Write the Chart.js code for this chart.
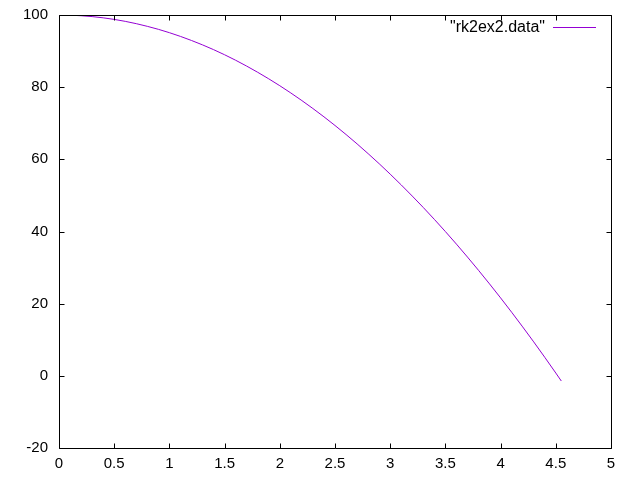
<!DOCTYPE html>
<html>
<head>
<meta charset="utf-8">
<script src="https://cdn.jsdelivr.net/npm/chart.js@4"></script>
<style>
  html, body { margin: 0; padding: 0; background: #fff; }
  #wrap { width: 640px; height: 480px; }
</style>
</head>
<body>
<div id="wrap"><canvas id="plot" width="640" height="480"></canvas></div>
<script>
// Data (time vs height)
const tValues = [0, 0.1, 0.2, 0.3, 0.4, 0.5, 0.6, 0.7, 0.8, 0.9,
    1.0, 1.1, 1.2, 1.3, 1.4, 1.5, 1.6, 1.7, 1.8, 1.9,
    2.0, 2.1, 2.2, 2.3, 2.4, 2.5, 2.6, 2.7, 2.8, 2.9,
    3.0, 3.1, 3.2, 3.3, 3.4, 3.5, 3.6, 3.7, 3.8, 3.9,
    4.0, 4.1, 4.2, 4.3, 4.4, 4.5, 4.55];
const heightValues = [100, 99.95, 99.80, 99.56, 99.22, 98.78, 98.24, 97.60, 96.86, 96.03,
    95.10, 94.07, 92.94, 91.72, 90.40, 88.98, 87.46, 85.84, 84.12, 82.31,
    80.40, 78.39, 76.28, 74.08, 71.78, 69.38, 66.88, 64.28, 61.58, 58.79,
    55.90, 52.91, 49.82, 46.64, 43.36, 39.98, 36.50, 32.92, 29.24, 25.47,
    21.60, 17.63, 13.56, 9.40, 5.14, 0.78, -1.44];
const seriesLabel = '"rk2ex2.data"';
const xTickLabels = ['0', '0.5', '1', '1.5', '2', '2.5', '3', '3.5', '4', '4.5', '5'];
const yTickLabels = ['-20', '0', '20', '40', '60', '80', '100'];

const lineColor = '#9400d3';
const fontFamily = '"Liberation Sans", Arial, sans-serif';

// gnuplot style frame: border, inward ticks on all four sides, key at top right
const framePlugin = {
    id: 'frame',
    afterDatasetsDraw(chart) {
        const { ctx, chartArea: a, scales } = chart;
        const L = Math.round(a.left) + 0.5, R = Math.round(a.right) + 0.5;
        const T = Math.round(a.top) + 0.5, B = Math.round(a.bottom) + 0.5;
        const tick = 5;
        ctx.save();
        ctx.strokeStyle = '#000';
        ctx.lineWidth = 1;
        ctx.beginPath();
        ctx.rect(L, T, R - L, B - T);
        scales.x.ticks.forEach(t => {
            const px = Math.round(scales.x.getPixelForValue(t.value)) + 0.5;
            ctx.moveTo(px, B); ctx.lineTo(px, B - tick);
            ctx.moveTo(px, T); ctx.lineTo(px, T + tick);
        });
        scales.y.ticks.forEach(t => {
            const py = Math.round(scales.y.getPixelForValue(t.value)) + 0.5;
            ctx.moveTo(L, py); ctx.lineTo(L + tick, py);
            ctx.moveTo(R, py); ctx.lineTo(R - tick, py);
        });
        ctx.stroke();

        // key
        const keyY = 27.5;
        ctx.font = '16px ' + fontFamily;
        ctx.fillStyle = '#000';
        ctx.textAlign = 'right';
        ctx.textBaseline = 'middle';
        ctx.fillText(seriesLabel, 545, keyY);
        ctx.strokeStyle = lineColor;
        ctx.beginPath();
        ctx.moveTo(553, keyY);
        ctx.lineTo(596, keyY);
        ctx.stroke();
        ctx.restore();
    }
};

const chart = new Chart(document.getElementById('plot'), {
    type: 'line',
    data: {
        datasets: [{
            label: seriesLabel,
            data: tValues.map((t, i) => ({ x: t, y: heightValues[i] })),
            borderColor: lineColor,
            borderWidth: 1,
            pointRadius: 0,
            tension: 0,
            fill: false
        }]
    },
    options: {
        responsive: false,
        animation: false,
        layout: { padding: { left: 0, right: 29, top: 15, bottom: 0 } },
        plugins: { legend: { display: false }, tooltip: { enabled: false } },
        scales: {
            x: {
                type: 'linear',
                min: 0, max: 5,
                afterFit: s => { s.height = 32; s.paddingLeft = 0; s.paddingRight = 0; },
                afterBuildTicks: s => { s.ticks = xTickLabels.map(v => ({ value: parseFloat(v) })); },
                grid: { display: false, drawTicks: false },
                border: { display: false },
                ticks: {
                    padding: 7,
                    color: '#000',
                    font: { family: fontFamily, size: 15 },
                    maxRotation: 0,
                    autoSkip: false,
                    callback: v => xTickLabels.find(l => parseFloat(l) === v)
                }
            },
            y: {
                type: 'linear',
                min: -20, max: 100,
                afterFit: s => { s.width = 59; s.paddingTop = 0; s.paddingBottom = 0; },
                afterBuildTicks: s => { s.ticks = yTickLabels.map(v => ({ value: parseFloat(v) })); },
                grid: { display: false, drawTicks: false },
                border: { display: false },
                ticks: {
                    padding: 11,
                    color: '#000',
                    font: { family: fontFamily, size: 15 },
                    autoSkip: false,
                    callback: v => yTickLabels.find(l => parseFloat(l) === v)
                }
            }
        }
    },
    plugins: [framePlugin]
});
</script>
</body>
</html>
